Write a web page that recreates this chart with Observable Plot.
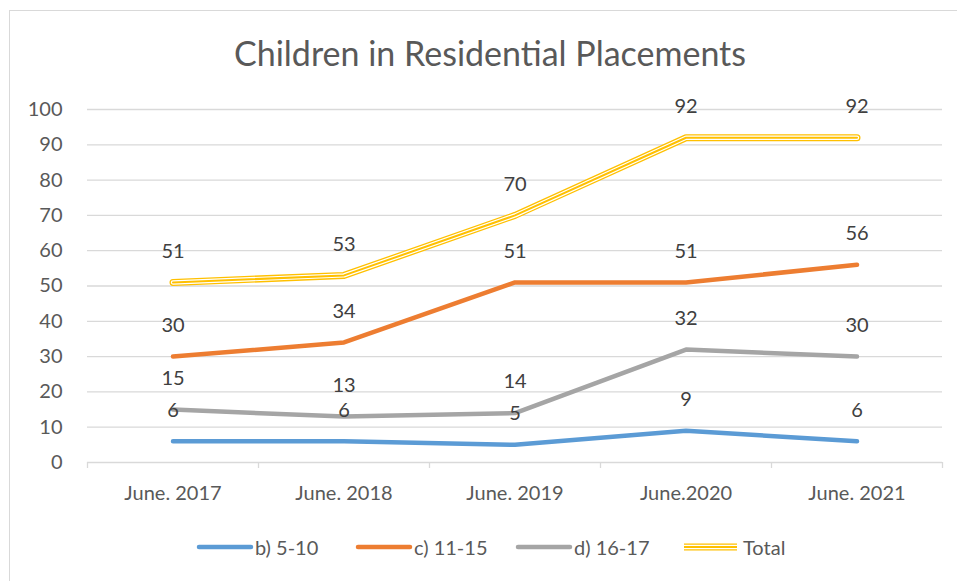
<!DOCTYPE html>
<html>
<head>
<meta charset="utf-8">
<script src="https://cdn.jsdelivr.net/npm/d3@7"></script>
<script src="https://cdn.jsdelivr.net/npm/@observablehq/plot@0.6"></script>
<style>
  html, body { margin: 0; padding: 0; background: #fff; }
  #wrap { position: relative; width: 957px; height: 581px; overflow: hidden; font-family: Lato, "Open Sans", sans-serif; }
  #frame { position: absolute; left: 9px; top: 10px; width: 960px; height: 600px; border-top: 1.5px solid #D9D9D9; border-left: 1.5px solid #D9D9D9; }
  #title { position: absolute; left: 0; top: 32px; width: 980px; text-align: center; font-size: 34px; color: #595959; line-height: 42px; }
  #chart { position: absolute; left: 0; top: 90px; }
  #legend { position: absolute; left: 0; top: 533px; width: 957px; height: 30px; }
  .li { position: absolute; top: 0; height: 28px; display: flex; align-items: center; font-size: 20px; color: #595959; }
</style>
</head>
<body>
<div id="wrap">
  <div id="frame"></div>
  <div id="title">Children in Residential Placements</div>
  <div id="chart"></div>
  <div id="legend"></div>
</div>
<script>
const categories = ["June. 2017", "June. 2018", "June. 2019", "June.2020", "June. 2021"];
const seriesNames = ["b) 5-10", "c) 11-15", "d) 16-17", "Total"];
const age5to10 = [6, 6, 5, 9, 6];
const age11to15 = [30, 34, 51, 51, 56];
const age16to17 = [15, 13, 14, 32, 30];
const total = [51, 53, 70, 92, 92];
const colors = ["#5B9BD5", "#ED7D31", "#A5A5A5", "#FFC000"];
const yTicks = [0, 10, 20, 30, 40, 50, 60, 70, 80, 90, 100];

const allValues = [age5to10, age11to15, age16to17, total];
const rows = [];
allValues.forEach((vals, s) => vals.forEach((v, i) => rows.push({series: seriesNames[s], i: i + 0.5, cat: categories[i], value: v})));
const bySeries = s => rows.filter(d => d.series === s);
const boundaries = d3.range(categories.length + 1);

const textColor = "#595959";
const fontFam = "Lato, 'Open Sans', sans-serif";
const lineOpts = {x: "i", y: "value", strokeLinecap: "round", strokeLinejoin: "round"};

const plot = Plot.plot({
  width: 957,
  height: 420,
  marginLeft: 87,
  marginRight: 15,
  marginTop: 19,
  marginBottom: 48,
  style: {fontFamily: fontFam, fontSize: "20px", color: textColor, background: "transparent"},
  x: {type: "linear", domain: [0, categories.length], axis: null, label: null},
  y: {type: "linear", domain: [0, 100], axis: null, label: null},
  marks: [
    Plot.gridY(yTicks, {stroke: "#D9D9D9", strokeOpacity: 1, strokeWidth: 1.3}),
    Plot.axisX(boundaries, {tickFormat: () => "", tickSize: 6, stroke: "#D9D9D9", strokeWidth: 1.3, label: null}),
    Plot.axisX(categories.map((c, i) => i + 0.5), {tickFormat: d => categories[Math.floor(d)], tickSize: 0, tickPadding: 23, fontSize: 20, fill: textColor, label: null}),
    Plot.axisY(yTicks, {tickSize: 0, tickPadding: 25, fontSize: 20, fill: textColor, label: null}),
    Plot.line(bySeries(seriesNames[0]), {...lineOpts, stroke: colors[0], strokeWidth: 4.5}),
    Plot.line(bySeries(seriesNames[1]), {...lineOpts, stroke: colors[1], strokeWidth: 4.5}),
    Plot.line(bySeries(seriesNames[2]), {...lineOpts, stroke: colors[2], strokeWidth: 4.5}),
    Plot.line(bySeries(seriesNames[3]), {x: "i", y: "value", stroke: colors[3], strokeWidth: 7, strokeLinejoin: "round"}),
    Plot.line(bySeries(seriesNames[3]), {x: "i", y: "value", stroke: "#fff", strokeWidth: 4.4, strokeLinejoin: "round"}),
    Plot.line(bySeries(seriesNames[3]), {x: "i", y: "value", stroke: colors[3], strokeWidth: 2, strokeLinejoin: "round"}),
    Plot.text(rows, {x: "i", y: "value", text: d => String(d.value), dy: -31, fontSize: 20, fill: "#404040", lineAnchor: "middle"})
  ]
});
document.getElementById("chart").appendChild(plot);

// legend
const legendPos = [196, 355, 515, 682];
const leg = document.getElementById("legend");
seriesNames.forEach((name, s) => {
  const item = document.createElement("div");
  item.className = "li";
  item.style.left = legendPos[s] + "px";
  const sw = s === 3
    ? `<svg width="58" height="12" style="margin-right:3px"><line x1="2" x2="55" y1="6" y2="6" stroke="${colors[3]}" stroke-width="7"/><line x1="2" x2="55" y1="6" y2="6" stroke="#fff" stroke-width="4.4"/><line x1="2" x2="55" y1="6" y2="6" stroke="${colors[3]}" stroke-width="2"/></svg>`
    : `<svg width="58" height="12" style="margin-right:1px"><line x1="3" x2="55" y1="6" y2="6" stroke="${colors[s]}" stroke-width="4.5" stroke-linecap="round"/></svg>`;
  item.innerHTML = sw + `<span>${name}</span>`;
  leg.appendChild(item);
});
</script>
</body>
</html>
